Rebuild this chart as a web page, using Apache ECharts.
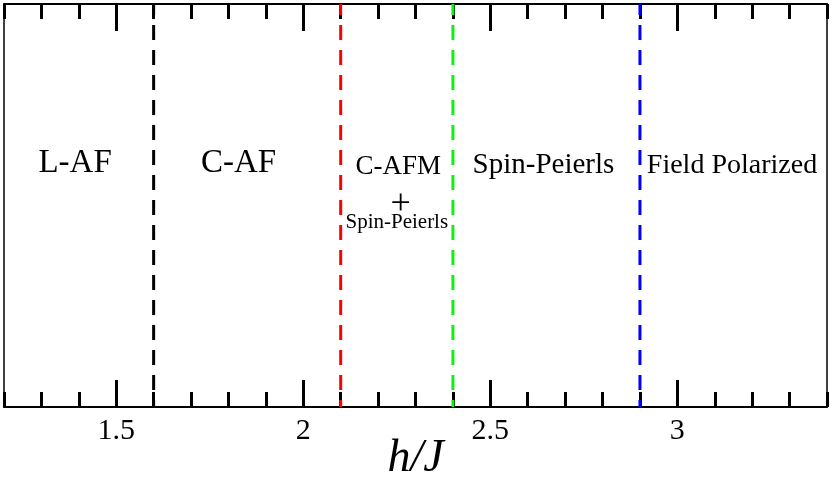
<!DOCTYPE html>
<html lang="en">
<head>
<meta charset="UTF-8" />
<title>Phase diagram h/J</title>
<script src="https://cdn.jsdelivr.net/npm/echarts@6/dist/echarts.min.js"></script>
<style>
  html, body { margin: 0; padding: 0; background: #fff; }
  #main { width: 830px; height: 483px; }
</style>
</head>
<body>
<div id="main"></div>
<script>
// axis range and ticks
var xRange = [1.2, 3.4];
var majorTicks = [1.5, 2, 2.5, 3];
var minorStep = 0.1;

// phase boundaries (h/J) and their colours
var boundaries = [1.6, 2.1, 2.4, 2.9];
var boundaryColors = ['#000000', '#ff0000', '#11f011', '#0000ff'];

// region names, x position (h/J), y position (0..1 of plot height), font size
var regionNames = ['L-AF', 'C-AF', 'C-AFM', '+', 'Spin-Peierls', 'Spin-Peierls', 'Field Polarized'];
var regionX = [1.39, 1.827, 2.254, 2.26, 2.25, 2.642, 3.146];
var regionY = [0.604, 0.604, 0.596, 0.503, 0.457, 0.6, 0.6];
var regionSize = [33, 33, 27, 36, 21, 29, 28];

var serif = '"Liberation Serif", "Times New Roman", serif';
var myChart = echarts.init(document.getElementById('main'));

function tickAxis(pos, major, withLabel) {
  var ax = {
    type: 'value',
    position: pos,
    min: xRange[0],
    max: xRange[1],
    splitLine: { show: false },
    axisLine: { show: !major, lineStyle: { color: '#000', width: 2 } },
    axisTick: {
      show: true,
      inside: true,
      length: major ? 27 : 15,
      lineStyle: { color: '#000', width: 3 }
    },
    axisLabel: { show: false }
  };
  if (major) {
    ax.axisTick.customValues = majorTicks;
    if (withLabel) {
      ax.axisLabel = {
        show: true,
        customValues: majorTicks,
        margin: 9,
        color: '#000',
        fontSize: 30,
        fontFamily: serif
      };
      ax.name = 'h/J';
      ax.nameLocation = 'middle';
      ax.nameGap = 29;
      ax.nameMoveOverlap = false;
      ax.nameTextStyle = { color: '#000', fontSize: 46, fontStyle: 'italic', fontFamily: serif };
    }
  } else {
    ax.interval = minorStep;
  }
  return ax;
}

var series = boundaries.map(function (b, i) {
  return {
    type: 'line',
    xAxisIndex: 0,
    yAxisIndex: 0,
    data: [[b, 1], [b, 0]],
    symbol: 'none',
    silent: true,
    z: 5,
    lineStyle: { color: boundaryColors[i], width: 3, type: [15, 10], dashOffset: 4 }
  };
});

series.push({
  type: 'scatter',
  xAxisIndex: 0,
  yAxisIndex: 0,
  symbolSize: 0,
  silent: true,
  itemStyle: { opacity: 1 },
  data: regionNames.map(function (n, i) {
    return {
      value: [regionX[i], regionY[i]],
      label: { formatter: n, fontSize: regionSize[i] }
    };
  }),
  label: {
    show: true,
    position: 'inside',
    color: '#000',
    opacity: 1,
    textBorderWidth: 0,
    fontFamily: serif
  }
});

var option = {
  animation: false,
  backgroundColor: '#fff',
  grid: { left: 4, right: 3, top: 4, bottom: 76, outerBoundsMode: 'none', containLabel: false },
  xAxis: [
    tickAxis('bottom', false),
    tickAxis('bottom', true, true),
    tickAxis('top', false),
    tickAxis('top', true)
  ],
  yAxis: [
    {
      type: 'value', min: 0, max: 1, position: 'left',
      axisLine: { show: true, lineStyle: { color: '#000', width: 1.5 } },
      axisTick: { show: false }, axisLabel: { show: false }, splitLine: { show: false }
    },
    {
      type: 'value', min: 0, max: 1, position: 'right',
      axisLine: { show: true, lineStyle: { color: '#000', width: 1.5 } },
      axisTick: { show: false }, axisLabel: { show: false }, splitLine: { show: false }
    }
  ],
  series: series
};

myChart.setOption(option);
</script>
</body>
</html>
